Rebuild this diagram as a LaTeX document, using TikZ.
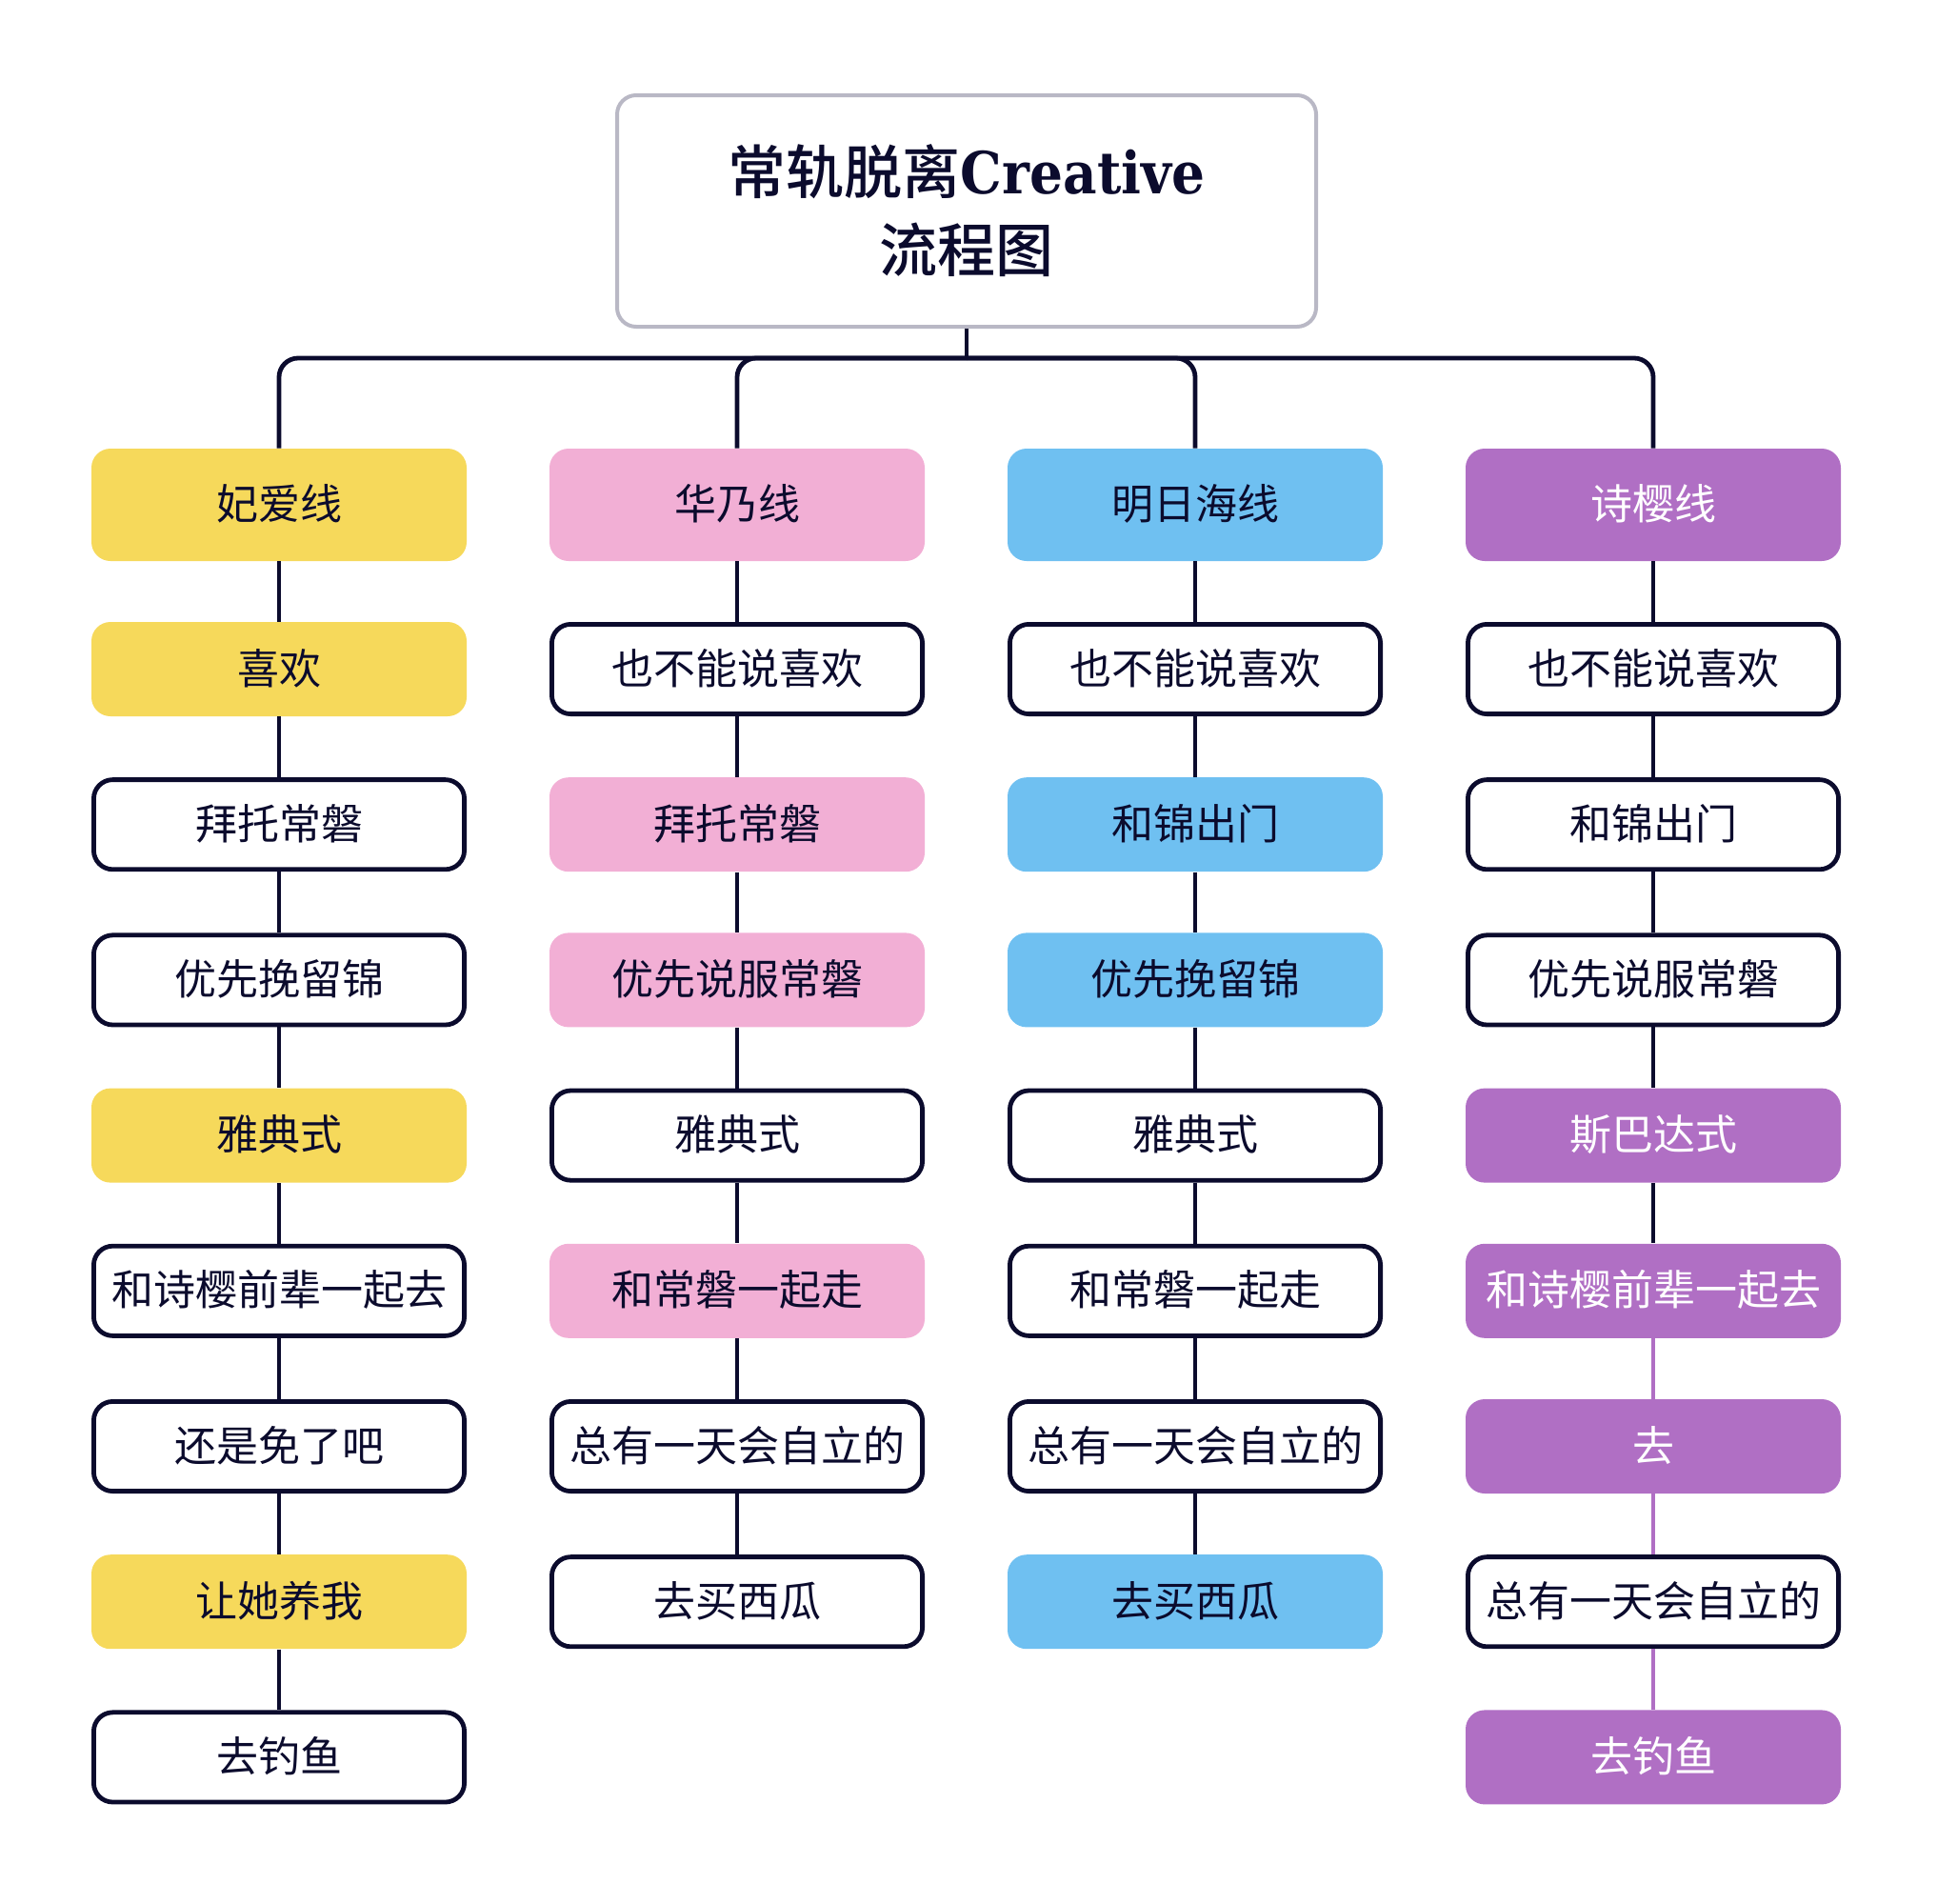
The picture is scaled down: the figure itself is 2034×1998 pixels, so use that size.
\documentclass[tikz,border=0pt]{standalone}
\usepackage{fontspec}
\setmainfont{Noto Sans CJK SC}
\newfontfamily\titlecjk{Noto Sans CJK SC Medium}
\newfontfamily\creativefont{DejaVu Serif Condensed}
\usetikzlibrary{positioning}

\definecolor{navy}{HTML}{0B0B2D}
\definecolor{feiyellow}{HTML}{F6D95B}
\definecolor{huapink}{HTML}{F2AFD5}
\definecolor{mingblue}{HTML}{6FC0F1}
\definecolor{shipurple}{HTML}{B06FC4}
\definecolor{framegray}{HTML}{B9B8C5}

\tikzset{
  link/.style={draw=navy, line width=2.4pt},
  shilink/.style={draw=shipurple, line width=2.4pt},
  box/.style={rounded corners=10pt, inner sep=0pt, minimum width=197pt, minimum height=49.5pt,
    font=\fontsize{22pt}{26pt}\selectfont, text=navy, text height=18pt, text depth=2.5pt},
  plain/.style={box, draw=navy, line width=2.4pt, fill=white, minimum width=194.6pt, minimum height=47.1pt},
  fei/.style={box, fill=feiyellow},
  hua/.style={box, fill=huapink},
  ming/.style={box, fill=mingblue},
  shi/.style={box, fill=shipurple, text=white},
  head/.style={minimum height=59pt},
  titlebox/.style={draw=framegray, line width=2pt, rounded corners=10pt, fill=white,
    minimum width=367pt, minimum height=121.5pt, align=center, text=navy,
    font=\fontsize{30.5pt}{41pt}\selectfont}
}

\begin{document}
\begin{tikzpicture}[x=0.5pt, y=-0.5pt]
    \useasboundingbox (0,0) rectangle (2034,1998);

    \node[titlebox] (title) at (1015,221.5) {{\titlecjk 常轨脱离}{\creativefont\bfseries Creative}\\{\titlecjk 流程图}};
    \coordinate (bus) at (1015,376);

    % 妃爱线
    \node[fei, head] (fei0) at (293,530) {妃爱线};
    \node[fei] (fei1) at (293,702.5) {喜欢};
    \node[plain] (fei2) at (293,865.7) {拜托常磐};
    \node[plain] (fei3) at (293,1028.9) {优先挽留锦};
    \node[fei] (fei4) at (293,1192.1) {雅典式};
    \node[plain] (fei5) at (293,1355.3) {和诗樱前辈一起去};
    \node[plain] (fei6) at (293,1518.5) {还是免了吧};
    \node[fei] (fei7) at (293,1681.7) {让她养我};
    \node[plain] (fei8) at (293,1844.9) {去钓鱼};

    % 华乃线
    \node[hua, head] (hua0) at (774,530) {华乃线};
    \node[plain] (hua1) at (774,702.5) {也不能说喜欢};
    \node[hua] (hua2) at (774,865.7) {拜托常磐};
    \node[hua] (hua3) at (774,1028.9) {优先说服常磐};
    \node[plain] (hua4) at (774,1192.1) {雅典式};
    \node[hua] (hua5) at (774,1355.3) {和常磐一起走};
    \node[plain] (hua6) at (774,1518.5) {总有一天会自立的};
    \node[plain] (hua7) at (774,1681.7) {去买西瓜};

    % 明日海线
    \node[ming, head] (ming0) at (1255,530) {明日海线};
    \node[plain] (ming1) at (1255,702.5) {也不能说喜欢};
    \node[ming] (ming2) at (1255,865.7) {和锦出门};
    \node[ming] (ming3) at (1255,1028.9) {优先挽留锦};
    \node[plain] (ming4) at (1255,1192.1) {雅典式};
    \node[plain] (ming5) at (1255,1355.3) {和常磐一起走};
    \node[plain] (ming6) at (1255,1518.5) {总有一天会自立的};
    \node[ming] (ming7) at (1255,1681.7) {去买西瓜};

    % 诗樱线
    \node[shi, head] (shi0) at (1736,530) {诗樱线};
    \node[plain] (shi1) at (1736,702.5) {也不能说喜欢};
    \node[plain] (shi2) at (1736,865.7) {和锦出门};
    \node[plain] (shi3) at (1736,1028.9) {优先说服常磐};
    \node[shi] (shi4) at (1736,1192.1) {斯巴达式};
    \node[shi] (shi5) at (1736,1355.3) {和诗樱前辈一起去};
    \node[shi] (shi6) at (1736,1518.5) {去};
    \node[plain] (shi7) at (1736,1681.7) {总有一天会自立的};
    \node[shi] (shi8) at (1736,1844.9) {去钓鱼};

    % branches
    \draw[link] (title) -- (bus);
    \draw[link, rounded corners=10pt] (bus) -| (fei0);
    \draw[link, rounded corners=10pt] (bus) -| (hua0);
    \draw[link, rounded corners=10pt] (bus) -| (ming0);
    \draw[link, rounded corners=10pt] (bus) -| (shi0);

    \draw[link] (fei0) -- (fei1);
    \draw[link] (fei1) -- (fei2);
    \draw[link] (fei2) -- (fei3);
    \draw[link] (fei3) -- (fei4);
    \draw[link] (fei4) -- (fei5);
    \draw[link] (fei5) -- (fei6);
    \draw[link] (fei6) -- (fei7);
    \draw[link] (fei7) -- (fei8);

    \draw[link] (hua0) -- (hua1);
    \draw[link] (hua1) -- (hua2);
    \draw[link] (hua2) -- (hua3);
    \draw[link] (hua3) -- (hua4);
    \draw[link] (hua4) -- (hua5);
    \draw[link] (hua5) -- (hua6);
    \draw[link] (hua6) -- (hua7);

    \draw[link] (ming0) -- (ming1);
    \draw[link] (ming1) -- (ming2);
    \draw[link] (ming2) -- (ming3);
    \draw[link] (ming3) -- (ming4);
    \draw[link] (ming4) -- (ming5);
    \draw[link] (ming5) -- (ming6);
    \draw[link] (ming6) -- (ming7);

    \draw[link] (shi0) -- (shi1);
    \draw[link] (shi1) -- (shi2);
    \draw[link] (shi2) -- (shi3);
    \draw[link] (shi3) -- (shi4);
    \draw[link] (shi4) -- (shi5);
    \draw[shilink] (shi5) -- (shi6);
    \draw[shilink] (shi6) -- (shi7);
    \draw[shilink] (shi7) -- (shi8);
\end{tikzpicture}
\end{document}
